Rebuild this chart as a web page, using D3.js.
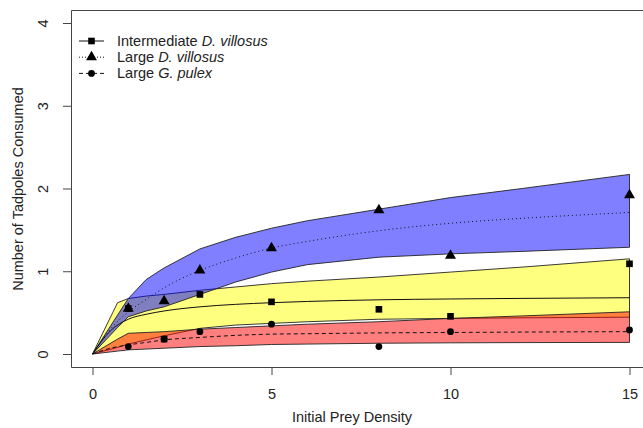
<!DOCTYPE html>
<html>
<head>
<meta charset="utf-8">
<script src="https://cdn.jsdelivr.net/npm/d3@7"></script>
<style>
  body { margin: 0; background: #fff; }
  text { font-family: "Liberation Sans", Arial, sans-serif; fill: #222; }
</style>
</head>
<body>
<div id="chart"></div>
<script>
// observed points
const densities = [1, 2, 3, 5, 8, 10, 15];
const interDv = [0.55, 0.18, 0.72, 0.63, 0.54, 0.455, 1.09];
const largeDv = [0.55, 0.64, 1.01, 1.28, 1.74, 1.19, 1.92];
const largeGp = [0.09, 0.18, 0.27, 0.36, 0.09, 0.27, 0.29];

// fitted curves
const fitX = [0, 0.5, 1, 1.5, 2, 3, 4, 5, 6, 8, 10, 12, 15];
const fitInterDv = [0, 0.28, 0.42, 0.48, 0.52, 0.57, 0.60, 0.62, 0.635, 0.655, 0.665, 0.672, 0.68];
const fitLargeDv = [0, 0.30, 0.51, 0.66, 0.80, 1.01, 1.16, 1.28, 1.36, 1.49, 1.58, 1.64, 1.71];
const fitLargeGp = [0, 0.07, 0.11, 0.14, 0.17, 0.20, 0.225, 0.24, 0.245, 0.255, 0.26, 0.265, 0.27];

// confidence bands
const bandX = [0, 0.7, 1, 1.5, 2, 3, 4, 5, 6, 8, 10, 12, 15];
const blueUp = [0, 0.47, 0.67, 0.90, 1.04, 1.27, 1.41, 1.52, 1.61, 1.75, 1.89, 2.00, 2.17];
const blueLo = [0, 0.32, 0.45, 0.52, 0.57, 0.72, 0.87, 0.99, 1.08, 1.17, 1.21, 1.24, 1.29];
const yellowUp = [0, 0.62, 0.67, 0.70, 0.72, 0.77, 0.81, 0.85, 0.88, 0.93, 0.99, 1.05, 1.15];
const yellowLo = [0, 0.08, 0.12, 0.17, 0.22, 0.31, 0.35, 0.37, 0.39, 0.42, 0.43, 0.437, 0.445];
const redUp = [0, 0.18, 0.25, 0.26, 0.27, 0.30, 0.32, 0.34, 0.36, 0.39, 0.43, 0.46, 0.51];
const redLo = [0, 0.035, 0.05, 0.06, 0.07, 0.09, 0.10, 0.115, 0.12, 0.13, 0.135, 0.138, 0.14];

const xTicks = [0, 5, 10, 15];
const yTicks = [0, 1, 2, 3, 4];

const W = 643, H = 428;
const FS = "14.5px";
const svg = d3.select("#chart").append("svg").attr("width", W).attr("height", H);

const x = d3.scaleLinear().domain([0, 15]).range([92.5, 629.5]);
const y = d3.scaleLinear().domain([0, 4]).range([354, 23]);

// frame (right side runs off the picture)
svg.append("path")
  .attr("d", "M660,10.5H71.5V367.5H660")
  .attr("fill", "none").attr("stroke", "#444").attr("stroke-width", 1);

// axes
const xAxis = svg.append("g").attr("transform", "translate(0,368)")
  .call(d3.axisBottom(x).tickValues(xTicks).tickSize(7).tickPadding(14).tickFormat(d3.format("d")));
const yAxis = svg.append("g").attr("transform", "translate(71,0)")
  .call(d3.axisLeft(y).tickValues(yTicks).tickSize(8).tickFormat(d3.format("d")));
[xAxis, yAxis].forEach(g => {
  g.select(".domain").remove();
  g.selectAll("line").attr("stroke", "#444");
  g.selectAll("text").style("font-size", FS).attr("fill", "#222");
});
yAxis.selectAll(".tick text")
  .attr("transform", "rotate(-90)").attr("x", 0).attr("y", -28)
  .attr("text-anchor", "middle").attr("dy", "0.35em");

// bands
function band(up, lo, color) {
  const area = d3.area().x((d, i) => x(bandX[i])).y0((d, i) => y(lo[i])).y1(d => y(d));
  svg.append("path").datum(up).attr("d", area)
    .attr("fill", color).attr("fill-opacity", 0.5)
    .attr("stroke", "#222").attr("stroke-width", 0.9);
}
band(yellowUp, yellowLo, "#ffff00");
band(blueUp, blueLo, "#0000ff");
band(redUp, redLo, "#ff0000");

// fitted lines
const line = d3.line().x((d, i) => x(fitX[i])).y(d => y(d)).curve(d3.curveMonotoneX);
svg.append("path").datum(fitInterDv).attr("d", line)
  .attr("fill", "none").attr("stroke", "#111").attr("stroke-width", 1);
svg.append("path").datum(fitLargeDv).attr("d", line)
  .attr("fill", "none").attr("stroke", "#111").attr("stroke-width", 1).attr("stroke-dasharray", "1,3");
svg.append("path").datum(fitLargeGp).attr("d", line)
  .attr("fill", "none").attr("stroke", "#111").attr("stroke-width", 1).attr("stroke-dasharray", "4,3");

// markers
const sq = d3.symbol().type(d3.symbolSquare).size(44);
const tri = d3.symbol().type(d3.symbolTriangle).size(52);
const circ = d3.symbol().type(d3.symbolCircle).size(36);

svg.selectAll(".gp").data(largeGp).join("path")
  .attr("transform", (d, i) => `translate(${x(densities[i])},${y(d)})`).attr("d", circ).attr("fill", "#000");
svg.selectAll(".ldv").data(largeDv).join("path")
  .attr("transform", (d, i) => `translate(${x(densities[i])},${y(d)})`).attr("d", tri).attr("fill", "#000");
svg.selectAll(".idv").data(interDv).join("path")
  .attr("transform", (d, i) => `translate(${x(densities[i])},${y(d)})`).attr("d", sq).attr("fill", "#000");

// axis titles
svg.append("text").attr("x", 352).attr("y", 422).attr("text-anchor", "middle")
  .style("font-size", FS).text("Initial Prey Density");
svg.append("text").attr("transform", "translate(23,189) rotate(-90)").attr("text-anchor", "middle")
  .style("font-size", FS).text("Number of Tadpoles Consumed");

// legend
const legendItems = [
  { pre: "Intermediate ", it: "D. villosus", sym: sq, dash: null },
  { pre: "Large ", it: "D. villosus", sym: tri, dash: "1,2" },
  { pre: "Large ", it: "G. pulex", sym: circ, dash: "4,3" }
];
const leg = svg.append("g");
legendItems.forEach((d, i) => {
  const ly = 41 + i * 16.2;
  leg.append("line").attr("x1", 79).attr("x2", 104).attr("y1", ly).attr("y2", ly)
    .attr("stroke", "#111").attr("stroke-width", 1).attr("stroke-dasharray", d.dash);
  leg.append("path").attr("transform", `translate(91.5,${ly})`).attr("d", d.sym).attr("fill", "#000");
  const t = leg.append("text").attr("x", 117).attr("y", ly + 5).style("font-size", FS);
  t.append("tspan").text(d.pre);
  t.append("tspan").style("font-style", "italic").text(d.it);
});
</script>
</body>
</html>
